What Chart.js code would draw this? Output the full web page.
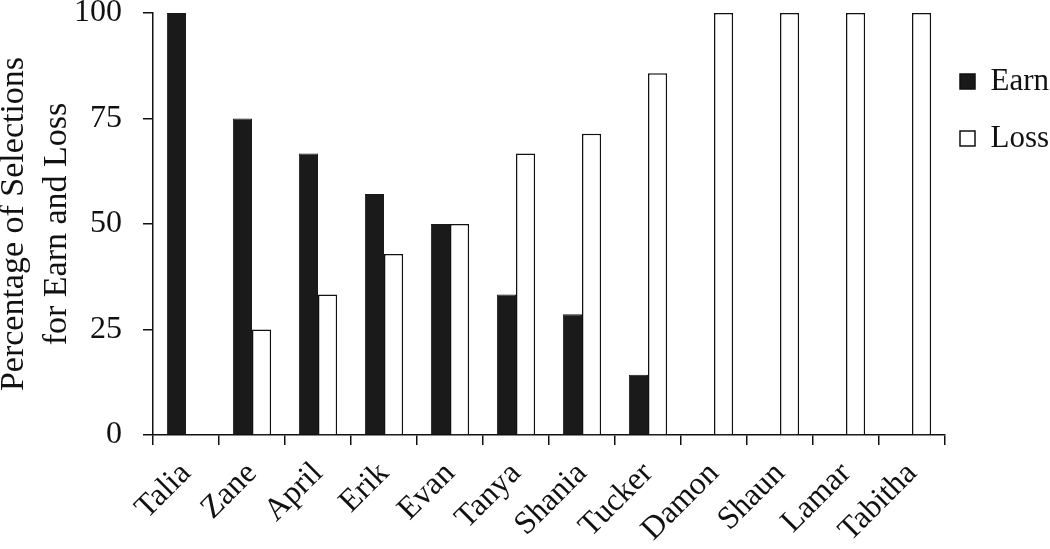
<!DOCTYPE html>
<html>
<head>
<meta charset="utf-8">
<script src="https://cdn.jsdelivr.net/npm/chart.js@4/dist/chart.umd.min.js"></script>
<style>
html,body{margin:0;padding:0;background:#fff;}
#wrap{width:1050px;height:549px;}
</style>
</head>
<body>
<div id="wrap"><canvas id="c" width="1050" height="549"></canvas></div>
<script>
const categories = ["Talia","Zane","April","Erik","Evan","Tanya","Shania","Tucker","Damon","Shaun","Lamar","Tabitha"];
const earnValues = [100, 75, 66.7, 57.1, 50, 33.3, 28.6, 14.3, 0, 0, 0, 0];
const lossValues = [0, 25, 33.3, 42.9, 50, 66.7, 71.4, 85.7, 100, 100, 100, 100];
const yTicks = [0, 25, 50, 75, 100];
const yTitle = ["Percentage of Selections", "for Earn and Loss"];

const serif = "'Liberation Serif','Times New Roman',serif";

const legendShift = {
  id: 'legendShift',
  afterLayout(chart) {
    const lg = chart.legend;
    if (lg) { lg.left -= 11; }
  }
};

new Chart(document.getElementById('c'), {
  type: 'bar',
  data: {
    labels: categories,
    datasets: [
      {label: 'Earn', data: earnValues, backgroundColor: '#1a1a1a', borderColor: '#1a1a1a', borderWidth: 1},
      {label: 'Loss', data: lossValues, backgroundColor: '#ffffff', borderColor: '#111', borderWidth: 1.5}
    ]
  },
  plugins: [legendShift],
  options: {
    responsive: false,
    animation: false,
    layout: {padding: 0},
    datasets: {bar: {categoryPercentage: 0.58, barPercentage: 1.0, borderSkipped: 'start'}},
    plugins: {
      tooltip: {enabled: false},
      legend: {
        position: 'right',
        align: 'start',
        maxWidth: 105,
        title: {display: true, text: ' ', padding: {top: 28, bottom: 0}, font: {family: serif, size: 10}},
        labels: {
          color: '#111',
          font: {family: serif, size: 31},
          boxWidth: 15,
          boxHeight: 15,
          padding: 26,
          generateLabels: (chart) => chart.data.datasets.map((ds, i) => ({
            text: ds.label,
            fillStyle: ds.backgroundColor,
            strokeStyle: '#111',
            lineWidth: 1.5,
            datasetIndex: i,
            fontColor: '#111'
          }))
        }
      }
    },
    scales: {
      x: {
        grid: {display: true, drawOnChartArea: false, drawTicks: true, tickLength: 10, color: '#111', lineWidth: 1.5, offset: true},
        border: {display: true, color: '#111', width: 1.5},
        ticks: {color: '#111', font: {family: serif, size: 32}, minRotation: 45, maxRotation: 45, padding: 10, autoSkip: false},
        afterFit: (s) => { s.height = 114; s.paddingLeft = 0; s.paddingRight = 0; }
      },
      y: {
        min: 0, max: 100,
        afterBuildTicks: (s) => { s.ticks = yTicks.map(v => ({value: v})); },
        grid: {display: true, drawOnChartArea: false, drawTicks: true, tickLength: 10, color: '#111', lineWidth: 1.5},
        border: {display: true, color: '#111', width: 1.5},
        ticks: {color: '#111', font: {family: serif, size: 32}, padding: 21},
        title: {display: true, text: yTitle, color: '#111', font: {family: serif, size: 34, lineHeight: 1.25}, padding: {top: -7, bottom: 0}},
        afterFit: (s) => { s.width = 153; s.paddingTop = 13; s.paddingBottom = 0; }
      }
    }
  }
});
</script>
</body>
</html>
